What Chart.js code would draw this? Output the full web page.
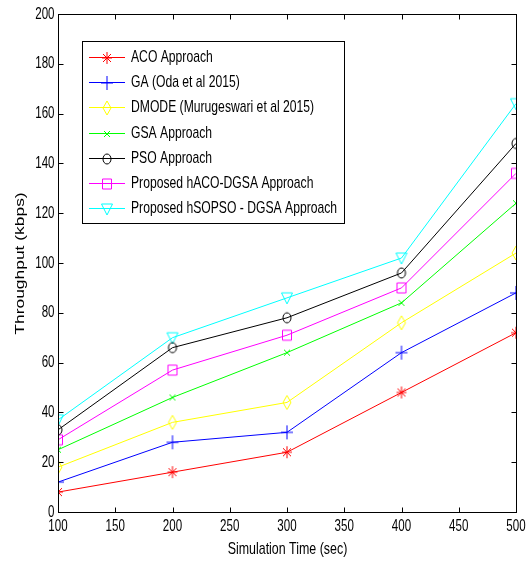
<!DOCTYPE html>
<html>
<head>
<meta charset="utf-8">
<script src="https://cdn.jsdelivr.net/npm/chart.js@4.4.1/dist/chart.umd.min.js"></script>
<style>
  html, body { margin: 0; padding: 0; background: #fff; }
  #wrap { width: 528px; height: 561px; }
</style>
</head>
<body>
<div id="wrap"><canvas id="c" width="528" height="561"></canvas></div>
<script>
// Simulation time steps (sec)
const simTime = [100, 200, 300, 400, 500];

// Throughput (kbps) per approach
const acoValues     = [8, 16, 24, 48, 72];
const gaValues      = [12, 28, 32, 64, 88];
const dmodeValues   = [18, 36, 44, 76, 104];
const gsaValues     = [25, 46, 64, 84, 124];
const psoValues     = [33, 66, 78, 96, 148];
const hacoValues    = [29, 57, 71, 90, 136];
const hsopsoValues  = [37, 70, 86, 102, 164];

const seriesNames = [
  'ACO Approach',
  'GA (Oda et al 2015)',
  'DMODE (Murugeswari et al 2015)',
  'GSA Approach',
  'PSO Approach',
  'Proposed hACO-DGSA Approach',
  'Proposed hSOPSO - DGSA Approach'
];

const xTicks = [100, 150, 200, 250, 300, 350, 400, 450, 500];
const yTicks = [0, 20, 40, 60, 80, 100, 120, 140, 160, 180, 200];

const xTitle = 'Simulation Time (sec)';
const yTitle = 'Throughput (kbps)';

const FONT = '"Liberation Sans", Arial, sans-serif';

// text drawn with a horizontal scale factor (condensed lettering)
function squeezedText(ctx, text, x, y, align, sx) {
  ctx.save();
  ctx.translate(x, y);
  ctx.scale(sx, 1);
  ctx.textAlign = align;
  ctx.fillText(text, 0, 0);
  ctx.restore();
}

// small marker glyphs in the MATLAB style
function marker(kind, color) {
  const w = 16, h = 16;
  const cv = document.createElement('canvas');
  cv.width = w; cv.height = h;
  const g = cv.getContext('2d');
  g.strokeStyle = color; g.lineWidth = 1;
  const cx = 8, cy = 8;
  g.beginPath();
  if (kind === 'star') {
    g.moveTo(cx, cy - 6); g.lineTo(cx, cy + 6);
    g.moveTo(cx - 5, cy); g.lineTo(cx + 5, cy);
    g.moveTo(cx - 4, cy - 4); g.lineTo(cx + 4, cy + 4);
    g.moveTo(cx + 4, cy - 4); g.lineTo(cx - 4, cy + 4);
  } else if (kind === 'plus') {
    g.moveTo(cx, cy - 7); g.lineTo(cx, cy + 7);
    g.moveTo(cx - 6, cy); g.lineTo(cx + 6, cy);
  } else if (kind === 'diamond') {
    g.moveTo(cx, cy - 7); g.lineTo(cx + 4, cy); g.lineTo(cx, cy + 7); g.lineTo(cx - 4, cy); g.closePath();
  } else if (kind === 'x') {
    g.moveTo(cx - 3, cy - 3); g.lineTo(cx + 3, cy + 3);
    g.moveTo(cx + 3, cy - 3); g.lineTo(cx - 3, cy + 3);
  } else if (kind === 'circle') {
    g.ellipse(cx, cy, 4, 5, 0, 0, Math.PI * 2);
  } else if (kind === 'square') {
    g.rect(cx - 4.5, cy - 5, 9, 10);
  } else if (kind === 'tri') {
    g.moveTo(cx - 5.5, cy - 5); g.lineTo(cx + 5.5, cy - 5); g.lineTo(cx, cy + 6); g.closePath();
  }
  g.stroke();
  return cv;
}

const styles = [
  { color: '#ff0000', kind: 'star' },
  { color: '#0000ff', kind: 'plus' },
  { color: '#ffff00', kind: 'diamond' },
  { color: '#00ff00', kind: 'x' },
  { color: '#000000', kind: 'circle' },
  { color: '#ff00ff', kind: 'square' },
  { color: '#00ffff', kind: 'tri' }
];
const allValues = [acoValues, gaValues, dmodeValues, gsaValues, psoValues, hacoValues, hsopsoValues];

const datasets = allValues.map((vals, i) => {
  const img = marker(styles[i].kind, styles[i].color);
  return {
    label: seriesNames[i],
    data: simTime.map((t, k) => ({ x: t, y: vals[k] })),
    borderColor: styles[i].color,
    backgroundColor: styles[i].color,
    borderWidth: 1,
    pointStyle: img,
    pointRadius: 8,
    tension: 0,
    _marker: img
  };
});

// box frame, inward ticks on all four sides, tick labels, titles and the legend box
const framePlugin = {
  id: 'frame',
  afterDatasetsDraw(chart) {
    const { ctx, chartArea: a, scales } = chart;
    ctx.save();
    ctx.strokeStyle = '#000';
    ctx.lineWidth = 1;
    const L = Math.round(a.left) + 0.5, R = Math.round(a.right) + 0.5;
    const T = Math.round(a.top) + 0.5, B = Math.round(a.bottom) + 0.5;
    ctx.strokeRect(L, T, R - L, B - T);
    ctx.beginPath();
    const tl = 5;
    xTicks.forEach(v => {
      const px = Math.round(scales.x.getPixelForValue(v)) + 0.5;
      ctx.moveTo(px, B); ctx.lineTo(px, B - tl);
      ctx.moveTo(px, T); ctx.lineTo(px, T + tl);
    });
    yTicks.forEach(v => {
      const py = Math.round(scales.y.getPixelForValue(v)) + 0.5;
      ctx.moveTo(L, py); ctx.lineTo(L + tl, py);
      ctx.moveTo(R, py); ctx.lineTo(R - tl, py);
    });
    ctx.stroke();

    // tick labels
    ctx.fillStyle = '#000';
    ctx.font = '17px ' + FONT;
    ctx.textBaseline = 'middle';
    xTicks.forEach(v => {
      squeezedText(ctx, String(v), scales.x.getPixelForValue(v), B + 14, 'center', 0.68);
    });
    yTicks.forEach(v => {
      squeezedText(ctx, String(v), L - 4, scales.y.getPixelForValue(v), 'right', 0.68);
    });

    // axis titles
    ctx.font = '17px ' + FONT;
    squeezedText(ctx, xTitle, (L + R) / 2, 549, 'center', 0.73);
    ctx.save();
    ctx.translate(20, (T + B) / 2);
    ctx.rotate(-Math.PI / 2);
    ctx.font = '13px ' + FONT;
    squeezedText(ctx, yTitle, 0, 0, 'center', 1.34);
    ctx.restore();

    // legend
    const bx = 82, by = 41, bw = 262, bh = 182;
    ctx.fillStyle = '#fff';
    ctx.fillRect(bx, by, bw, bh);
    ctx.strokeStyle = '#000';
    ctx.strokeRect(bx + 0.5, by + 0.5, bw, bh);
    ctx.font = '17px ' + FONT;
    chart.data.datasets.forEach((ds, i) => {
      const y = Math.round(57 + i * 25.2) + 0.5;
      ctx.strokeStyle = ds.borderColor;
      ctx.beginPath();
      ctx.moveTo(89, y); ctx.lineTo(125, y);
      ctx.stroke();
      ctx.drawImage(ds._marker, 107 - 8, Math.round(y) - 8);
      ctx.fillStyle = '#000';
      squeezedText(ctx, ds.label, 131, y, 'left', 0.715);
    });
    ctx.restore();
  }
};

new Chart(document.getElementById('c'), {
  type: 'line',
  data: { datasets },
  options: {
    responsive: false,
    animation: false,
    devicePixelRatio: 1,
    layout: { padding: { top: 14, right: 12, left: 0, bottom: 0 } },
    plugins: { legend: { display: false }, tooltip: { enabled: false } },
    scales: {
      x: {
        type: 'linear',
        min: 100, max: 500,
        afterBuildTicks: s => { s.ticks = xTicks.map(v => ({ value: v })); },
        afterFit: s => { s.height = 49; },
        grid: { display: false, drawTicks: false },
        border: { display: false },
        ticks: { display: false }
      },
      y: {
        min: 0, max: 200,
        afterBuildTicks: s => { s.ticks = yTicks.map(v => ({ value: v })); },
        afterFit: s => { s.width = 58; },
        grid: { display: false, drawTicks: false },
        border: { display: false },
        ticks: { display: false }
      }
    }
  },
  plugins: [framePlugin]
});
</script>
</body>
</html>
